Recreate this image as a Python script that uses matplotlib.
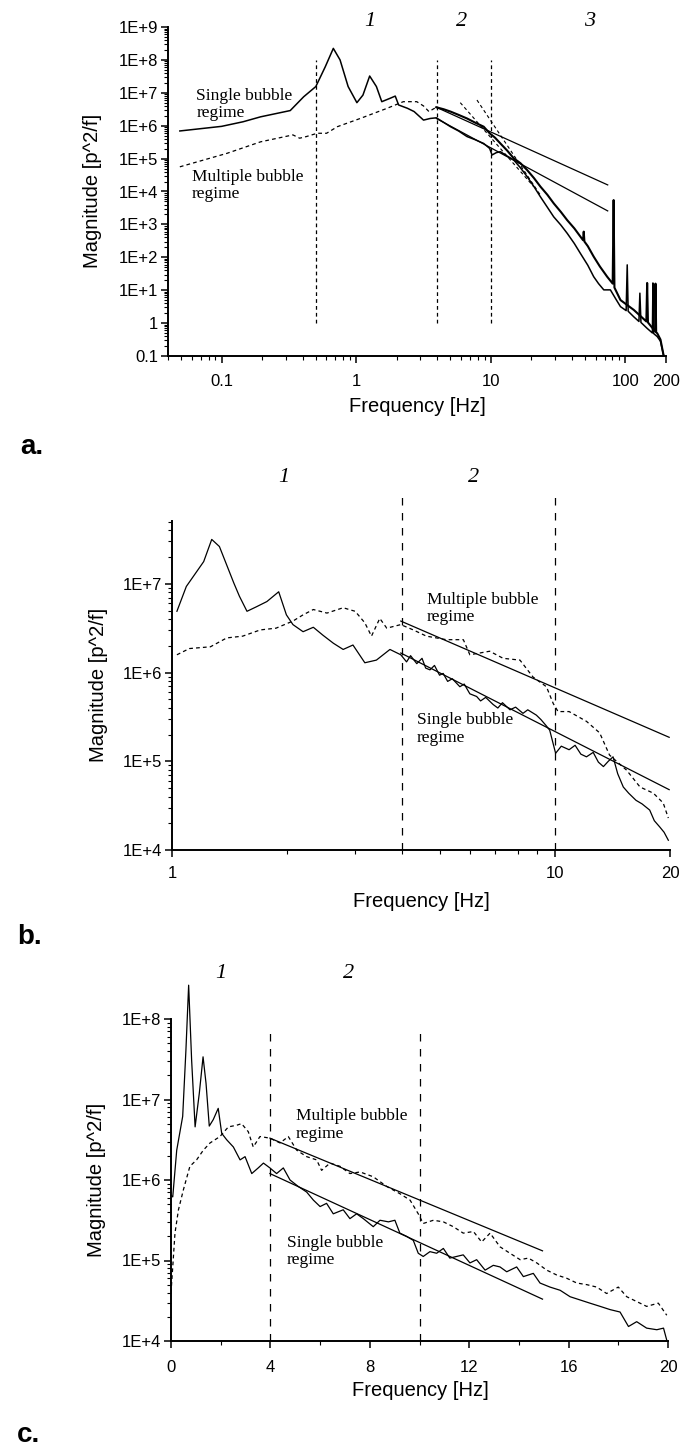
import numpy as np
import matplotlib.pyplot as plt
from matplotlib.ticker import FixedLocator, FixedFormatter, LogLocator, NullFormatter, MultipleLocator

plt.rcParams["font.family"] = ["Liberation Sans", "DejaVu Sans"]
SERIF = "Liberation Serif"

# ---------------- panel a (log10 frequency, log10 magnitude) ----------------
a_single_lf = [-1.31, -1.0, -0.84, -0.71, -0.49, -0.39, -0.30, -0.23, -0.17, -0.12, -0.06,
               0.005, 0.05, 0.10, 0.15, 0.19, 0.25, 0.29, 0.315, 0.38, 0.43, 0.50, 0.55,
               0.595, 0.65, 0.70, 0.76, 0.823, 0.88, 0.947, 0.991, 1.009, 1.04, 1.071,
               1.12, 1.17, 1.22, 1.27, 1.32, 1.368, 1.42, 1.467, 1.52, 1.567, 1.62,
               1.665, 1.72, 1.764, 1.80, 1.839, 1.888, 1.93, 1.963, 2.005, 2.013, 2.02,
               2.062, 2.10, 2.107, 2.115, 2.161, 2.20, 2.204, 2.21, 2.236, 2.26, 2.285]
a_single_ly = [5.84, 5.98, 6.12, 6.27, 6.46, 6.88, 7.19, 7.79, 8.35, 8.00, 7.19,
               6.70, 6.93, 7.51, 7.19, 6.73, 6.83, 6.90, 6.63, 6.53, 6.43, 6.17, 6.22,
               6.24, 6.10, 5.97, 5.84, 5.67, 5.58, 5.46, 5.31, 5.11, 5.18, 5.21,
               5.08, 4.96, 4.72, 4.45, 4.15, 3.84, 3.52, 3.23, 2.98, 2.73, 2.42,
               2.12, 1.76, 1.41, 1.20, 1.01, 1.01, 0.72, 0.50, 0.38, 1.77, 0.36,
               0.19, 0.05, 0.91, 0.02, -0.16, -0.30, 1.22, -0.32, -0.41, -0.55, -1.02]

a_multi_dash_lf = [-1.31, -0.96, -0.71, -0.47, -0.42, -0.37, -0.29, -0.22, -0.14, 0.03,
                   0.23, 0.35, 0.45, 0.50, 0.54, 0.595]
a_multi_dash_ly = [4.75, 5.16, 5.51, 5.72, 5.62, 5.67, 5.77, 5.77, 5.97, 6.22,
                   6.53, 6.73, 6.73, 6.60, 6.43, 6.56]

a_multi_lf = [0.595, 0.65, 0.70, 0.76, 0.823, 0.88, 0.947, 0.991, 1.03, 1.071, 1.12, 1.17,
              1.22, 1.27, 1.32, 1.368, 1.42, 1.467, 1.52, 1.567, 1.62, 1.665, 1.685,
              1.69, 1.695, 1.72, 1.764, 1.81, 1.864, 1.905, 1.912, 1.918, 1.963, 2.062,
              2.155, 2.161, 2.167, 2.22, 2.223, 2.228, 2.236, 2.26, 2.285]
a_multi_ly = [6.56, 6.50, 6.43, 6.33, 6.22, 6.10, 5.97, 5.77, 5.64, 5.46, 5.25, 5.01,
              4.86, 4.65, 4.41, 4.15, 3.90, 3.64, 3.38, 3.13, 2.88, 2.63, 2.52,
              2.78, 2.48, 2.34, 2.02, 1.72, 1.41, 1.20, 3.74, 1.08, 0.70, 0.40,
              0.05, 1.22, 0.02, -0.25, 1.20, -0.28, -0.31, -0.50, -1.02]

a_fit_lf = [[0.595, 1.868], [0.595, 1.868]]
a_fit_ly = [[6.56, 4.20], [6.22, 3.41]]
a_steep_lf = [[0.773, 1.318], [0.897, 1.368]]
a_steep_ly = [[6.70, 4.15], [6.78, 3.89]]
a_bounds = [0.5, 4, 10]

a_yticks = [0.1, 1, 1e1, 1e2, 1e3, 1e4, 1e5, 1e6, 1e7, 1e8, 1e9]
a_ylabels = ["0.1", "1", "1E+1", "1E+2", "1E+3", "1E+4", "1E+5", "1E+6", "1E+7", "1E+8", "1E+9"]
a_xticks = [0.1, 1, 10, 100, 200]
a_xlabels = ["0.1", "1", "10", "100", "200"]

# ---------------- panel b (Hz, log10 magnitude) ----------------
b_single_f = [1.03, 1.09, 1.21, 1.27, 1.33, 1.45, 1.50, 1.57, 1.66, 1.77, 1.90, 1.99, 2.07,
              2.20, 2.34, 2.48, 2.64, 2.80, 2.97, 3.19, 3.42, 3.71, 3.96, 4.1, 4.2, 4.36,
              4.5, 4.6, 4.72, 4.85, 5.0, 5.11, 5.25, 5.4, 5.65, 5.8, 6.0, 6.25, 6.4, 6.6,
              6.9, 7.1, 7.3, 7.64, 7.9, 8.26, 8.5, 8.95, 9.2, 9.5, 9.7, 10.05, 10.4,
              10.9, 11.3, 11.7, 12.1, 12.6, 13.0, 13.4, 13.8, 14.2, 14.6, 15.1, 15.6,
              16.3, 16.9, 17.7, 18.2, 18.8, 19.3, 19.8]
b_single_ly = [6.69, 6.97, 7.25, 7.50, 7.42, 7.01, 6.86, 6.69, 6.74, 6.80, 6.91, 6.65, 6.54,
               6.46, 6.51, 6.42, 6.33, 6.26, 6.31, 6.11, 6.14, 6.26, 6.20, 6.12, 6.19, 6.10,
               6.16, 6.05, 6.03, 6.08, 5.97, 5.99, 5.90, 5.93, 5.84, 5.87, 5.76, 5.73, 5.68, 5.72,
               5.64, 5.60, 5.66, 5.58, 5.61, 5.54, 5.58, 5.52, 5.47, 5.40, 5.35, 5.09, 5.17,
               5.13, 5.18, 5.08, 5.05, 5.10, 4.99, 4.94, 5.00, 5.05, 4.86, 4.71, 4.64,
               4.56, 4.52, 4.45, 4.33, 4.26, 4.20, 4.11]

b_multi_f = [1.03, 1.11, 1.26, 1.39, 1.53, 1.70, 1.87, 2.07, 2.20, 2.34, 2.54, 2.80, 3.01,
             3.19, 3.32, 3.49, 3.64, 3.96, 4.27, 4.62, 5.21, 5.77, 6.0, 6.76, 7.33, 8.11,
             8.77, 9.51, 9.91, 10.2, 10.9, 12.1, 13.1, 13.9, 15.4, 16.7, 18.1, 19.2, 19.8]
b_multi_ly = [6.20, 6.27, 6.29, 6.39, 6.41, 6.48, 6.50, 6.58, 6.65, 6.71, 6.67, 6.73, 6.69,
              6.56, 6.41, 6.61, 6.50, 6.54, 6.48, 6.41, 6.37, 6.37, 6.20, 6.24, 6.16, 6.14,
              5.95, 5.84, 5.65, 5.56, 5.56, 5.45, 5.32, 5.07, 4.90, 4.71, 4.64, 4.53, 4.36]

b_fit_f = [[3.96, 19.9], [3.96, 19.9]]
b_fit_ly = [[6.58, 5.27], [6.22, 4.68]]
b_bounds = [4, 10]
b_yticks = [1e4, 1e5, 1e6, 1e7]
b_ylabels = ["1E+4", "1E+5", "1E+6", "1E+7"]
b_xticks = [1, 10, 20]
b_xlabels = ["1", "10", "20"]

# ---------------- panel c (Hz, log10 magnitude) ----------------
c_single_f = [0.0, 0.07, 0.23, 0.47, 0.60, 0.71, 0.83, 0.97, 1.14, 1.29, 1.41, 1.54, 1.70,
              1.90, 2.04, 2.24, 2.51, 2.78, 2.98, 3.25, 3.51, 3.72, 3.98, 4.25, 4.52, 4.79,
              5.12, 5.46, 5.73, 6.0, 6.26, 6.53, 6.93, 7.20, 7.47, 7.74, 8.14, 8.41, 8.75,
              9.01, 9.21, 9.48, 9.75, 9.95, 10.15, 10.42, 10.69, 10.96, 11.22, 11.49,
              11.76, 12.03, 12.30, 12.64, 12.97, 13.24, 13.51, 13.91, 14.18, 14.58, 14.85,
              15.25, 15.66, 16.06, 16.46, 16.86, 17.27, 17.67, 18.07, 18.41, 18.74, 19.14,
              19.55, 19.82, 19.95]
c_single_ly = [5.81, 5.79, 6.37, 6.79, 7.61, 8.42, 7.49, 6.66, 7.08, 7.53, 7.20, 6.67, 6.75,
               6.89, 6.58, 6.50, 6.41, 6.25, 6.29, 6.08, 6.15, 6.21, 6.15, 6.08, 6.15, 6.00,
               5.92, 5.85, 5.75, 5.67, 5.71, 5.58, 5.63, 5.52, 5.58, 5.52, 5.42, 5.50, 5.48,
               5.50, 5.34, 5.30, 5.25, 5.09, 5.05, 5.11, 5.09, 5.15, 5.03, 5.05,
               5.07, 4.97, 5.01, 4.88, 4.94, 4.92, 4.86, 4.92, 4.80, 4.84, 4.72,
               4.67, 4.63, 4.55, 4.51, 4.47, 4.43, 4.39, 4.36, 4.18, 4.24, 4.16,
               4.14, 4.16, 4.01]

c_multi_f = [0.0, 0.07, 0.16, 0.30, 0.50, 0.76, 1.03, 1.30, 1.57, 1.97, 2.31, 2.64, 2.84,
             3.11, 3.31, 3.58, 3.98, 4.39, 4.72, 5.06, 5.46, 5.86, 6.06, 6.40, 6.80, 7.20,
             7.61, 8.14, 8.68, 9.21, 9.62, 9.95, 10.15, 10.56, 10.96, 11.36, 11.76, 12.17,
             12.50, 12.84, 13.24, 13.64, 14.05, 14.38, 14.72, 15.12, 15.52, 15.92, 16.33,
             16.73, 17.13, 17.53, 18.0, 18.34, 18.74, 19.14, 19.61, 19.95]
c_multi_ly = [4.60, 4.92, 5.34, 5.63, 5.88, 6.17, 6.25, 6.37, 6.46, 6.54, 6.66, 6.68, 6.70,
              6.60, 6.41, 6.54, 6.52, 6.46, 6.54, 6.37, 6.29, 6.25, 6.12, 6.21, 6.17, 6.08,
              6.10, 6.04, 5.92, 5.83, 5.75, 5.58, 5.46, 5.50, 5.48, 5.42, 5.34, 5.36,
              5.23, 5.34, 5.17, 5.09, 5.01, 5.03, 4.97, 4.88, 4.82, 4.78, 4.72,
              4.70, 4.67, 4.59, 4.67, 4.55, 4.49, 4.43, 4.47, 4.32]

c_fit_f = [[3.98, 14.95], [3.98, 14.95]]
c_fit_ly = [[6.52, 5.12], [6.08, 4.52]]
c_bounds = [4, 10]
c_yticks = [1e4, 1e5, 1e6, 1e7, 1e8]
c_ylabels = ["1E+4", "1E+5", "1E+6", "1E+7", "1E+8"]
c_xticks = [0, 4, 8, 12, 16, 20]


def pw(v):
    return 10 ** np.asarray(v, dtype=float)


W, H = 683, 1450
fig = plt.figure(figsize=(W / 100, H / 100), dpi=100)


def box(x, y, w, h):
    return [x / W, 1 - (y + h) / H, w / W, h / H]


def ftext(x, y, s, **kw):
    fig.text(x / W, 1 - y / H, s, **kw)


def style(ax, xpad):
    for s in ["top", "right"]:
        ax.spines[s].set_visible(False)
    for s in ["left", "bottom"]:
        ax.spines[s].set_linewidth(1.4)
    ax.tick_params(which="major", direction="out", length=5, width=1.1, labelsize=12)
    ax.tick_params(which="minor", direction="out", length=2.8, width=0.8)
    ax.tick_params(axis="y", pad=2)
    ax.tick_params(axis="x", pad=xpad)


curve = dict(color="black", lw=0.9)
dash = dict(color="black", lw=0.9, ls=(0, (3, 2.5)))
note = dict(family=SERIF, fontsize=12.5, va="top", ha="left", linespacing=1.1)
region = dict(family=SERIF, style="italic", fontsize=16, ha="center", va="center")
axlab = dict(fontsize=14.5, ha="center", va="center")

# ---- a ----
ax = fig.add_axes(box(168, 27, 498, 329))
style(ax, 8)
ax.set_xscale("log")
ax.set_yscale("log")
ax.set_xlim(0.04, 200)
ax.set_ylim(0.1, 1e9)
ax.plot(pw(a_multi_dash_lf), pw(a_multi_dash_ly), **dash)
ax.plot(pw(a_single_lf), pw(a_single_ly), color="black", lw=1.1)
ax.plot(pw(a_multi_lf), pw(a_multi_ly), color="black", lw=1.5)
for lf, ly in zip(a_fit_lf, a_fit_ly):
    ax.plot(pw(lf), pw(ly), color="black", lw=0.9)
for lf, ly in zip(a_steep_lf, a_steep_ly):
    ax.plot(pw(lf), pw(ly), color="black", lw=0.8, ls=(0, (3, 2.5)))
for b in a_bounds:
    ax.plot([b, b], [1, 1e8], color="black", lw=0.9, ls=(0, (3, 2.5)))
ax.yaxis.set_major_locator(FixedLocator(a_yticks))
ax.yaxis.set_major_formatter(FixedFormatter(a_ylabels))
ax.yaxis.set_minor_locator(LogLocator(base=10, subs=np.arange(2, 10), numticks=20))
ax.yaxis.set_minor_formatter(NullFormatter())
ax.xaxis.set_major_locator(FixedLocator(a_xticks))
ax.xaxis.set_major_formatter(FixedFormatter(a_xlabels))
ax.xaxis.set_minor_locator(LogLocator(base=10, subs=np.arange(2, 10), numticks=20))
ax.xaxis.set_minor_formatter(NullFormatter())
ax.text(0.065, 10 ** 7.15, "Single bubble\nregime", **note)
ax.text(0.060, 10 ** 4.68, "Multiple bubble\nregime", **note)
ftext(93, 191, "Magnitude [p^2/f]", rotation=90, **axlab)
ftext(417, 406, "Frequency [Hz]", **axlab)
for x, s in [(370, "1"), (462, "2"), (590, "3")]:
    ftext(x, 22, s, **region)
ftext(32, 447, "a.", fontsize=20, fontweight="bold", ha="center", va="center")

# ---- b ----
ax = fig.add_axes(box(172, 521, 498, 329))
style(ax, 6.5)
ax.set_xscale("log")
ax.set_yscale("log")
ax.set_xlim(1, 20)
ax.set_ylim(1e4, 5.1e7)
ax.plot(b_multi_f, pw(b_multi_ly), **dash)
ax.plot(b_single_f, pw(b_single_ly), **curve)
for f, ly in zip(b_fit_f, b_fit_ly):
    ax.plot(f, pw(ly), color="black", lw=0.9)
for b in b_bounds:
    ax.plot([b, b], [1e4, 1e8], color="black", lw=0.9, ls=(0, (6, 6)), clip_on=False)
ax.yaxis.set_major_locator(FixedLocator(b_yticks))
ax.yaxis.set_major_formatter(FixedFormatter(b_ylabels))
ax.yaxis.set_minor_locator(LogLocator(base=10, subs=np.arange(2, 10), numticks=20))
ax.yaxis.set_minor_formatter(NullFormatter())
ax.xaxis.set_major_locator(FixedLocator(b_xticks))
ax.xaxis.set_major_formatter(FixedFormatter(b_xlabels))
ax.xaxis.set_minor_locator(LogLocator(base=10, subs=np.arange(2, 10), numticks=20))
ax.xaxis.set_minor_formatter(NullFormatter())
ax.text(4.63, 10 ** 6.91, "Multiple bubble\nregime", **note)
ax.text(4.36, 10 ** 5.55, "Single bubble\nregime", **note)
ftext(98, 685, "Magnitude [p^2/f]", rotation=90, **axlab)
ftext(421, 902, "Frequency [Hz]", **axlab)
for x, s in [(284, "1"), (474, "2")]:
    ftext(x, 478, s, **region)
ftext(30, 937, "b.", fontsize=20, fontweight="bold", ha="center", va="center")

# ---- c ----
ax = fig.add_axes(box(171, 1019, 497, 322))
style(ax, 9)
ax.set_yscale("log")
ax.set_xlim(0, 20)
ax.set_ylim(1e4, 1e8)
ax.plot(c_multi_f, pw(c_multi_ly), **dash)
ax.plot(c_single_f, pw(c_single_ly), clip_on=False, **curve)
for f, ly in zip(c_fit_f, c_fit_ly):
    ax.plot(f, pw(ly), color="black", lw=0.9)
for b in c_bounds:
    ax.plot([b, b], [1e4, 10 ** 7.83], color="black", lw=0.9, ls=(0, (6, 6)))
ax.yaxis.set_major_locator(FixedLocator(c_yticks))
ax.yaxis.set_major_formatter(FixedFormatter(c_ylabels))
ax.yaxis.set_minor_locator(LogLocator(base=10, subs=np.arange(2, 10), numticks=20))
ax.yaxis.set_minor_formatter(NullFormatter())
ax.xaxis.set_major_locator(FixedLocator(c_xticks))
ax.xaxis.set_minor_locator(MultipleLocator(2))
ax.text(5.03, 10 ** 6.89, "Multiple bubble\nregime", **note)
ax.text(4.66, 10 ** 5.32, "Single bubble\nregime", **note)
ftext(97, 1180, "Magnitude [p^2/f]", rotation=90, **axlab)
ftext(420, 1390, "Frequency [Hz]", **axlab)
for x, s in [(221, "1"), (349, "2")]:
    ftext(x, 974, s, **region)
ftext(28, 1435, "c.", fontsize=20, fontweight="bold", ha="center", va="center")

fig.savefig("out.png", dpi=100, facecolor="white")
